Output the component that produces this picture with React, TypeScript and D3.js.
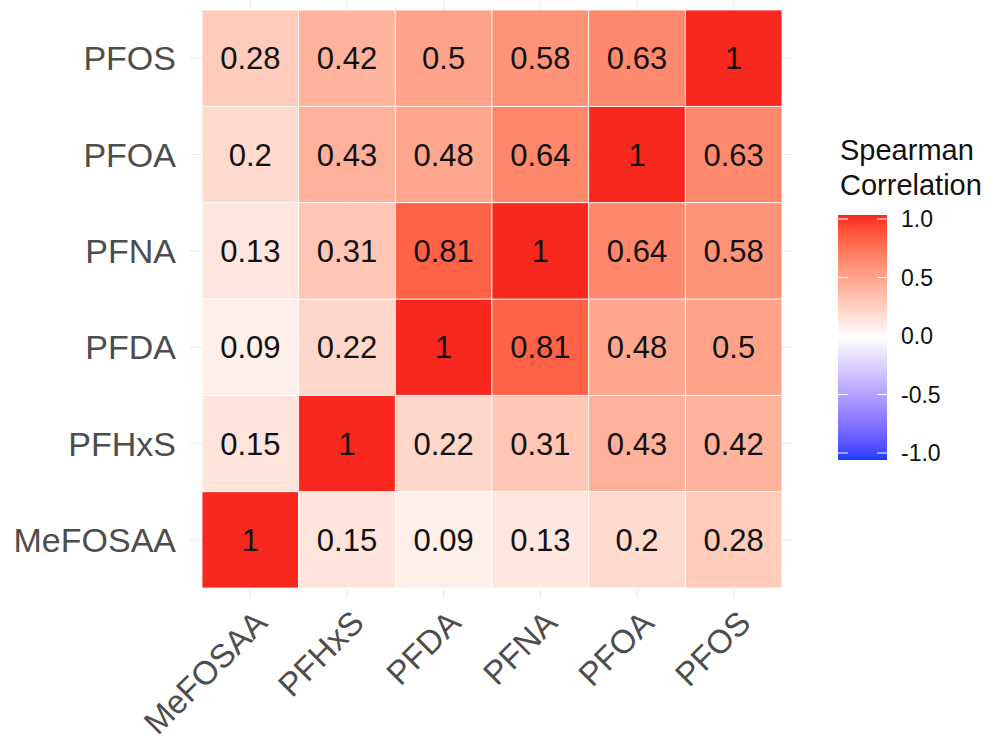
import React, { useEffect, useRef } from "react";
import * as d3 from "d3";

const width = 998;
const height = 747;

// row/column order (bottom-to-top on y, left-to-right on x)
const vars = ["MeFOSAA", "PFHxS", "PFDA", "PFNA", "PFOA", "PFOS"];
const rMeFOSAA = [1, 0.15, 0.09, 0.13, 0.2, 0.28];
const rPFHxS = [0.15, 1, 0.22, 0.31, 0.43, 0.42];
const rPFDA = [0.09, 0.22, 1, 0.81, 0.48, 0.5];
const rPFNA = [0.13, 0.31, 0.81, 1, 0.64, 0.58];
const rPFOA = [0.2, 0.43, 0.48, 0.64, 1, 0.63];
const rPFOS = [0.28, 0.42, 0.5, 0.58, 0.63, 1];
const legendTicks = [1, 0.5, 0, -0.5, -1];

const font = "'Liberation Sans', Arial, sans-serif";

export default function App() {
  const ref = useRef<SVGSVGElement>(null);

  useEffect(() => {
    const rows = [rMeFOSAA, rPFHxS, rPFDA, rPFNA, rPFOA, rPFOS];
    const cells: { r: string; c: string; v: number }[] = [];
    rows.forEach((row, i) =>
      row.forEach((v, j) => cells.push({ r: vars[i], c: vars[j], v }))
    );

    const svg = d3.select(ref.current);
    svg.selectAll("*").remove();

    const x = d3.scaleBand().domain(vars).range([202, 782]).padding(0);
    const y = d3.scaleBand().domain(vars).range([588, 10]).padding(0);

    const color = (v: number) =>
      v >= 0
        ? d3.interpolateLab("#ffffff", "#f8281e")(v)
        : d3.interpolateLab("#ffffff", "#1a3cff")(-v);

    const g = svg.append("g");

    // panel grid lines
    const grid = g.append("g").attr("stroke", "#ebebeb").attr("stroke-width", 1.2);
    vars.forEach((d) => {
      const cx = x(d)! + x.bandwidth() / 2;
      const cy = y(d)! + y.bandwidth() / 2;
      grid.append("line").attr("x1", cx).attr("x2", cx).attr("y1", 0).attr("y2", 598);
      grid.append("line").attr("x1", 190).attr("x2", 792).attr("y1", cy).attr("y2", cy);
    });

    g.selectAll("rect.cell")
      .data(cells)
      .enter()
      .append("rect")
      .attr("class", "cell")
      .attr("x", (d) => x(d.c)!)
      .attr("y", (d) => y(d.r)!)
      .attr("width", x.bandwidth())
      .attr("height", y.bandwidth())
      .attr("fill", (d) => color(d.v))
      .attr("stroke", "#ffffff")
      .attr("stroke-width", 0.8);

    g.selectAll("text.val")
      .data(cells)
      .enter()
      .append("text")
      .attr("class", "val")
      .attr("x", (d) => x(d.c)! + x.bandwidth() / 2)
      .attr("y", (d) => y(d.r)! + y.bandwidth() / 2)
      .attr("dy", "0.36em")
      .attr("text-anchor", "middle")
      .attr("font-family", font)
      .attr("font-size", 31)
      .attr("fill", "#111")
      .text((d) => String(d.v));

    // y axis labels
    g.selectAll("text.ylab")
      .data(vars)
      .enter()
      .append("text")
      .attr("class", "ylab")
      .attr("x", 176)
      .attr("y", (d) => y(d)! + y.bandwidth() / 2)
      .attr("dy", "0.36em")
      .attr("text-anchor", "end")
      .attr("font-family", font)
      .attr("font-size", 34)
      .attr("fill", "#4d4d4d")
      .text((d) => d);

    // x axis labels, rotated 45
    g.selectAll("text.xlab")
      .data(vars)
      .enter()
      .append("text")
      .attr("class", "xlab")
      .attr(
        "transform",
        (d) => `translate(${x(d)! + x.bandwidth() / 2 + 2},${608}) rotate(-45)`
      )
      .attr("dy", "0.72em")
      .attr("text-anchor", "end")
      .attr("font-family", font)
      .attr("font-size", 33)
      .attr("fill", "#4d4d4d")
      .text((d) => d);

    // legend
    const defs = svg.append("defs");
    const grad = defs
      .append("linearGradient")
      .attr("id", "lg")
      .attr("x1", 0)
      .attr("x2", 0)
      .attr("y1", 1)
      .attr("y2", 0);
    d3.range(0, 21).forEach((i) => {
      const v = -1 + i / 10;
      grad.append("stop").attr("offset", i / 20).attr("stop-color", color(v));
    });

    const ly = d3.scaleLinear().domain([-1, 1]).range([453, 219]);
    const lx0 = 838;
    const lw = 49;
    const lg = svg.append("g");
    lg.append("rect")
      .attr("x", lx0)
      .attr("y", 215)
      .attr("width", lw)
      .attr("height", 245)
      .attr("fill", "url(#lg)");
    legendTicks.forEach((t) => {
      lg.append("line")
        .attr("x1", lx0).attr("x2", lx0 + 10)
        .attr("y1", ly(t)).attr("y2", ly(t))
        .attr("stroke", "#fff").attr("stroke-width", 1);
      lg.append("line")
        .attr("x1", lx0 + lw - 10).attr("x2", lx0 + lw)
        .attr("y1", ly(t)).attr("y2", ly(t))
        .attr("stroke", "#fff").attr("stroke-width", 1);
      lg.append("text")
        .attr("x", 901)
        .attr("y", ly(t))
        .attr("dy", "0.36em")
        .attr("font-family", font)
        .attr("font-size", 23)
        .attr("fill", "#111")
        .text(t.toFixed(1));
    });
    lg.append("text")
      .attr("x", 840)
      .attr("y", 160)
      .attr("font-family", font)
      .attr("font-size", 29)
      .attr("fill", "#111")
      .text("Spearman");
    lg.append("text")
      .attr("x", 840)
      .attr("y", 195)
      .attr("font-family", font)
      .attr("font-size", 29)
      .attr("fill", "#111")
      .text("Correlation");
  }, []);

  return (
    <svg
      ref={ref}
      width={width}
      height={height}
      style={{ position: "absolute", left: 0, top: 0, background: "#fff" }}
    />
  );
}
